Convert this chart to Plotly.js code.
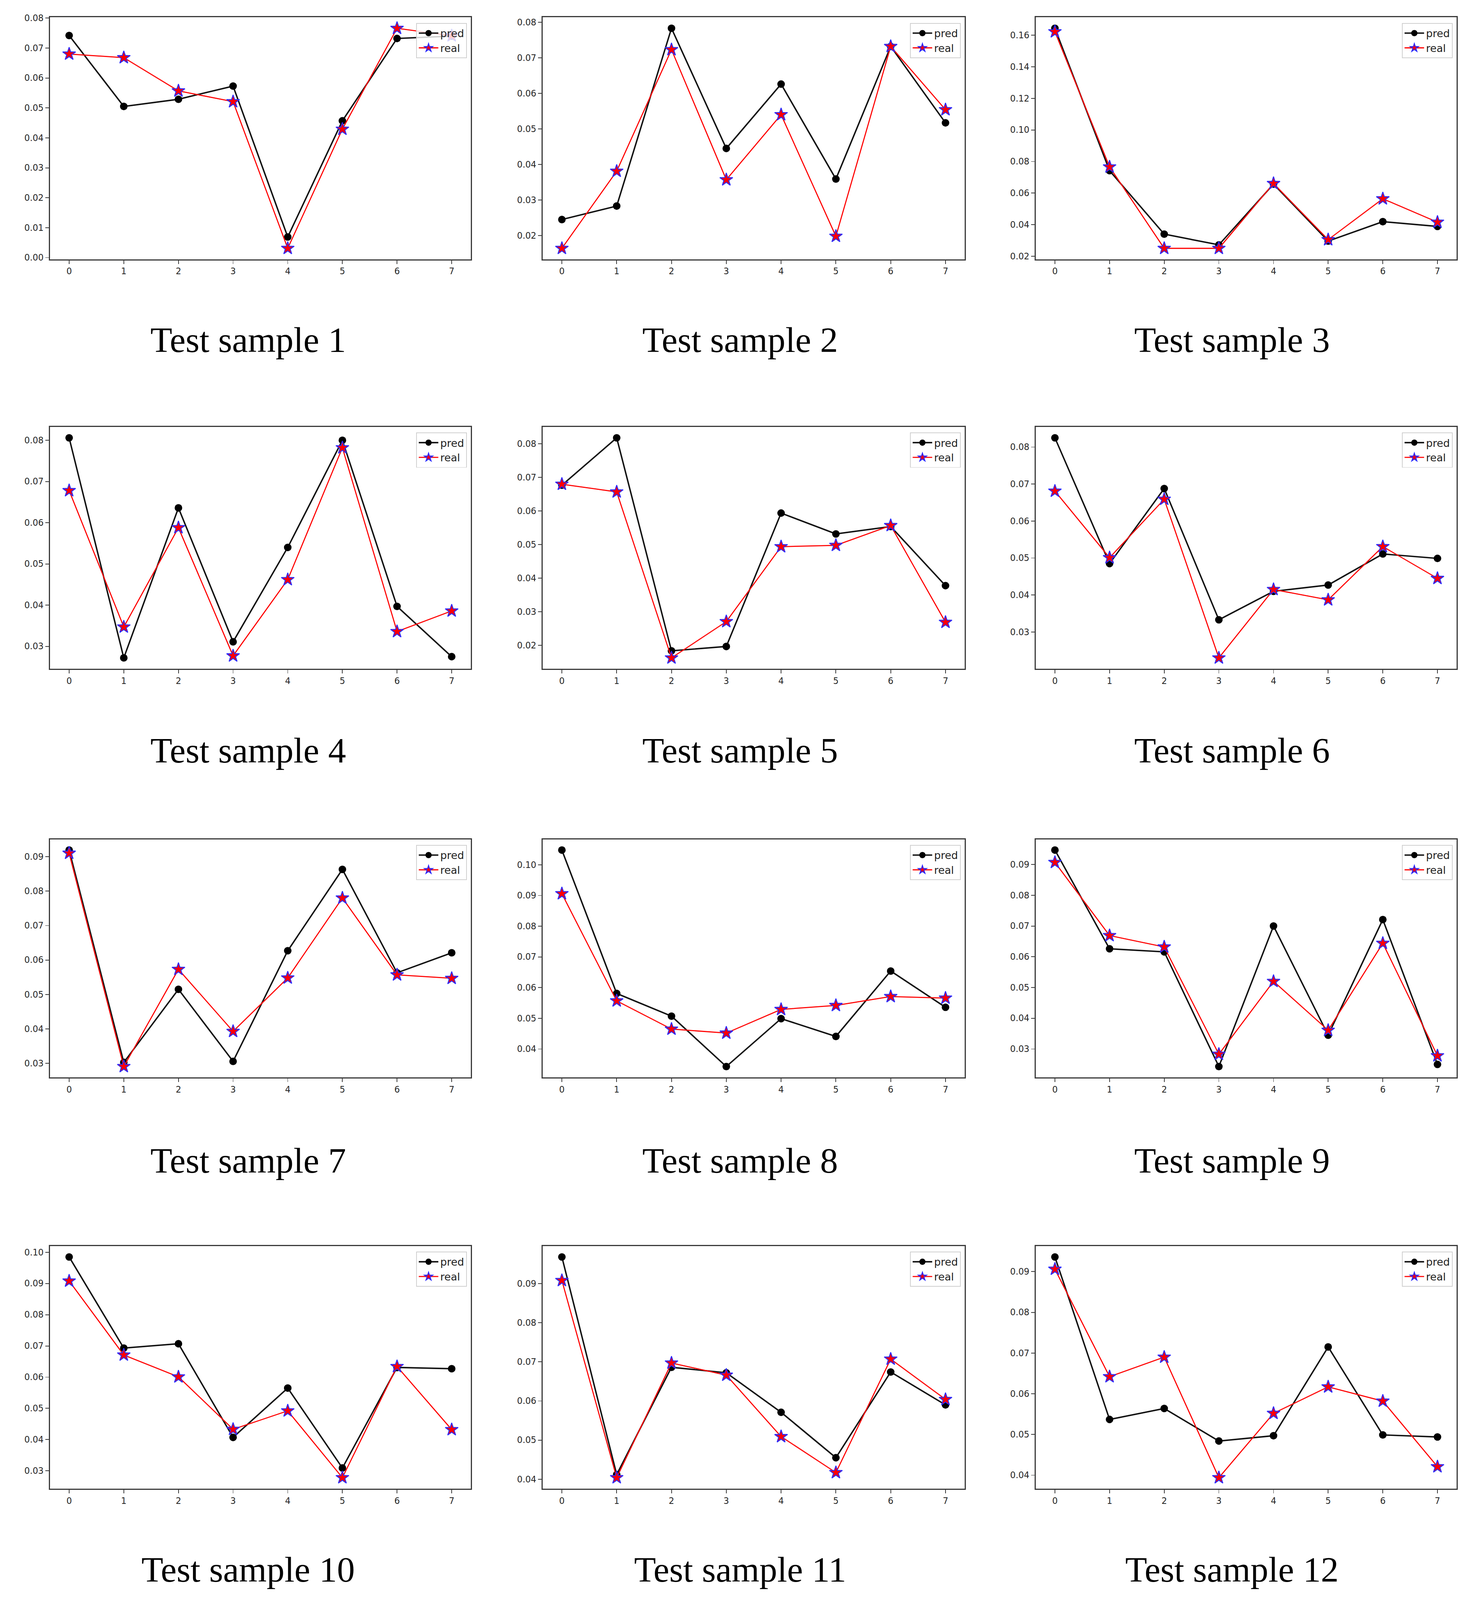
<!DOCTYPE html>
<html>
<head>
<meta charset="utf-8">
<script src="https://cdn.plot.ly/plotly-3.0.1.min.js"></script>
<style>html,body{margin:0;padding:0;background:#fff;overflow:hidden;}#chart{width:100vw;height:100vh;}</style>
</head>
<body>
<div id="chart"></div>
<script>
// ---- data ----
const steps = [0, 1, 2, 3, 4, 5, 6, 7];
const sampleLabels = ["Test sample 1","Test sample 2","Test sample 3","Test sample 4","Test sample 5","Test sample 6",
                      "Test sample 7","Test sample 8","Test sample 9","Test sample 10","Test sample 11","Test sample 12"];
const seriesNames = ["pred", "real"];

const pred1  = [0.0742, 0.0505, 0.0529, 0.0573, 0.0069, 0.0457, 0.0732, 0.0740];
const real1  = [0.0680, 0.0668, 0.0557, 0.0521, 0.0031, 0.0429, 0.0766, 0.0741];
const pred2  = [0.0245, 0.0283, 0.0783, 0.0445, 0.0626, 0.0359, 0.0732, 0.0517];
const real2  = [0.0164, 0.0381, 0.0723, 0.0357, 0.0540, 0.0198, 0.0732, 0.0554];
const pred3  = [0.1644, 0.0742, 0.0340, 0.0272, 0.0657, 0.0296, 0.0419, 0.0389];
const real3  = [0.1622, 0.0766, 0.0250, 0.0250, 0.0661, 0.0305, 0.0564, 0.0416];
const pred4  = [0.0806, 0.0272, 0.0636, 0.0311, 0.0540, 0.0800, 0.0397, 0.0275];
const real4  = [0.0678, 0.0347, 0.0588, 0.0277, 0.0462, 0.0782, 0.0336, 0.0386];
const pred5  = [0.0677, 0.0818, 0.0184, 0.0197, 0.0594, 0.0532, 0.0554, 0.0378];
const real5  = [0.0680, 0.0657, 0.0163, 0.0271, 0.0494, 0.0498, 0.0557, 0.0269];
const pred6  = [0.0825, 0.0485, 0.0688, 0.0333, 0.0410, 0.0427, 0.0511, 0.0499];
const real6  = [0.0681, 0.0501, 0.0659, 0.0230, 0.0415, 0.0387, 0.0531, 0.0445];
const pred7  = [0.0919, 0.0303, 0.0515, 0.0306, 0.0627, 0.0863, 0.0563, 0.0621];
const real7  = [0.0910, 0.0291, 0.0573, 0.0393, 0.0548, 0.0780, 0.0557, 0.0547];
const pred8  = [0.1048, 0.0581, 0.0507, 0.0343, 0.0499, 0.0441, 0.0654, 0.0536];
const real8  = [0.0906, 0.0557, 0.0465, 0.0452, 0.0529, 0.0542, 0.0571, 0.0566];
const pred9  = [0.0947, 0.0626, 0.0616, 0.0243, 0.0700, 0.0345, 0.0721, 0.0250];
const real9  = [0.0907, 0.0669, 0.0632, 0.0283, 0.0520, 0.0361, 0.0644, 0.0278];
const pred10 = [0.0985, 0.0693, 0.0707, 0.0407, 0.0565, 0.0309, 0.0631, 0.0627];
const real10 = [0.0908, 0.0671, 0.0601, 0.0433, 0.0492, 0.0278, 0.0634, 0.0432];
const pred11 = [0.0968, 0.0412, 0.0686, 0.0672, 0.0571, 0.0455, 0.0674, 0.0590];
const real11 = [0.0908, 0.0404, 0.0697, 0.0666, 0.0509, 0.0417, 0.0707, 0.0604];
const pred12 = [0.0936, 0.0537, 0.0564, 0.0484, 0.0497, 0.0715, 0.0499, 0.0494];
const real12 = [0.0906, 0.0642, 0.0690, 0.0394, 0.0552, 0.0617, 0.0582, 0.0421];
const yTickStep = [0.01, 0.01, 0.02, 0.01, 0.01, 0.01, 0.01, 0.01, 0.01, 0.01, 0.01, 0.01];

const predAll = [pred1,pred2,pred3,pred4,pred5,pred6,pred7,pred8,pred9,pred10,pred11,pred12];
const realAll = [real1,real2,real3,real4,real5,real6,real7,real8,real9,real10,real11,real12];

// ---- layout geometry (reference pixels, 3770x4442 figure), scaled to the viewport ----
const RW = 3770, RH = 4442;
const W = window.innerWidth || RW, H = window.innerHeight || RH;
const s = Math.min(W / RW, H / RH);
const colPx = [[128, 1205], [1389, 2469], [2651, 3728]];
const rowPx = [[48, 720], [1185, 1857], [2330, 2991], [3459, 4133]];
const capX = [635, 1894, 3153];
const capY = [944, 2084, 3223, 4358];

const tickFont = {family: "DejaVu Sans", size: 24 * s, color: "#262626"};
const traces = [];
const layout = {
  width: W, height: H,
  margin: {l: 0, r: 0, t: 0, b: 0},
  paper_bgcolor: "#ffffff", plot_bgcolor: "#ffffff",
  showlegend: true,
  annotations: []
};

for (let i = 0; i < 12; i++) {
  const r = Math.floor(i / 3), c = i % 3;
  const n = i + 1;
  const xk = n === 1 ? "xaxis" : "xaxis" + n;
  const yk = n === 1 ? "yaxis" : "yaxis" + n;
  const xr = n === 1 ? "x" : "x" + n;
  const yr = n === 1 ? "y" : "y" + n;
  const lk = n === 1 ? "legend" : "legend" + n;

  const all = predAll[i].concat(realAll[i]);
  const lo = Math.min(...all), hi = Math.max(...all);
  const pad = 0.05 * (hi - lo);

  const xd = [colPx[c][0] / RW, colPx[c][1] / RW];
  const yd = [1 - rowPx[r][1] / RH, 1 - rowPx[r][0] / RH];

  const axisStyle = {
    showgrid: false, zeroline: false,
    showline: true, mirror: true, linecolor: "#3a3a3a", linewidth: 3 * s,
    ticks: "outside", ticklen: 10 * s, tickwidth: 2 * s, tickcolor: "#3a3a3a",
    tickfont: tickFont, fixedrange: true
  };
  layout[xk] = Object.assign({
    domain: xd, anchor: yr, range: [-0.35, 7.35],
    tickmode: "linear", tick0: 0, dtick: 1
  }, axisStyle);
  layout[yk] = Object.assign({
    domain: yd, anchor: xr, range: [lo - pad, hi + pad],
    tickmode: "linear", tick0: 0, dtick: yTickStep[i], tickformat: ".2f"
  }, axisStyle);
  layout[lk] = {
    x: xd[1] - 10 / RW, y: yd[1] - 16 / RH, xanchor: "right", yanchor: "top",
    xref: "paper", yref: "paper",
    bgcolor: "rgba(255,255,255,0.8)", bordercolor: "#d0d0d0", borderwidth: 2 * s,
    font: {family: "DejaVu Sans", size: 29 * s, color: "#222"},
    itemwidth: 50, tracegroupgap: 0
  };

  traces.push({
    type: "scatter", mode: "lines+markers", name: seriesNames[0],
    x: steps, y: predAll[i], xaxis: xr, yaxis: yr, legend: lk,
    line: {color: "#111111", width: 4 * s},
    marker: {symbol: "circle", size: 21 * s, color: "#000000"}
  });
  traces.push({
    type: "scatter", mode: "lines+markers", name: seriesNames[1],
    x: steps, y: realAll[i], xaxis: xr, yaxis: yr, legend: lk,
    line: {color: "#ff0000", width: 3 * s},
    marker: {symbol: "star", size: 27 * s, color: "#ff0000", line: {color: "#2a2aff", width: 2.5 * s}}
  });

  layout.annotations.push({
    text: sampleLabels[i], xref: "paper", yref: "paper",
    x: capX[c] / RW, y: 1 - capY[r] / RH, xanchor: "center", yanchor: "middle",
    showarrow: false,
    font: {family: "Liberation Serif", size: 99 * s, color: "#000"}
  });
}

Plotly.newPlot("chart", traces, layout, {staticPlot: true, displayModeBar: false});
</script>
</body>
</html>
